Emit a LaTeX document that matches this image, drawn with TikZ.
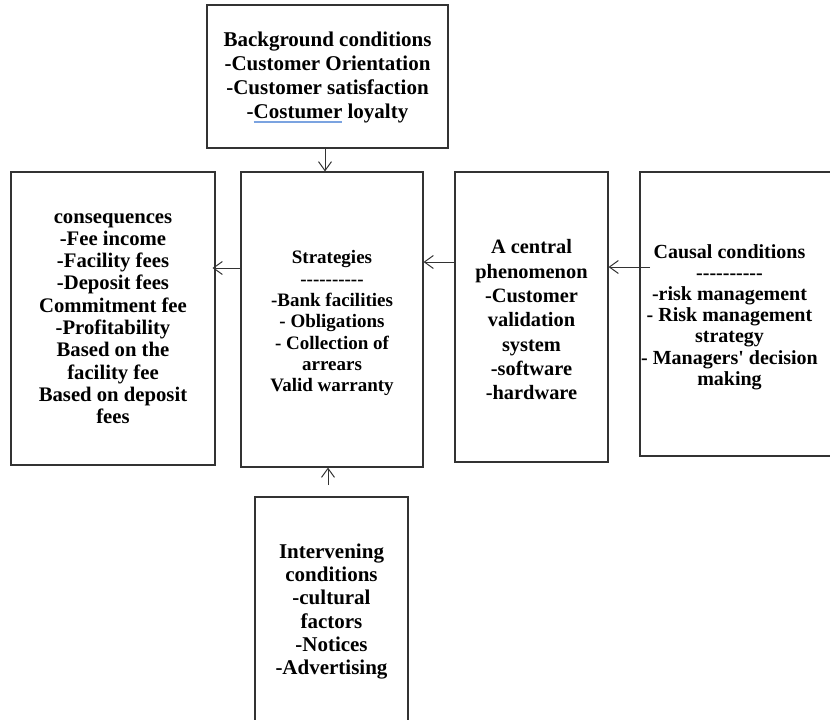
\documentclass[tikz,border=0pt]{standalone}
\usepackage{fontspec}
\newfontfamily\tf{Liberation Serif}
\usetikzlibrary{arrows.meta}
\definecolor{boxline}{HTML}{333333}
\definecolor{spell}{HTML}{7BA3E0}
\newcommand\spellul[1]{\setbox0\hbox{#1}\rlap{\color{spell}\rule[-4pt]{\wd0}{1.8pt}}\box0\relax}
\newcommand\hy{\mbox{-}}
\newcommand\hyrow{\hy\hy\hy\hy\hy\hy\hy\hy\hy\hy}
\newcommand\dn[2]{\raisebox{-#1}[\height][\depth]{\begin{tabular}{@{}c@{}}#2\end{tabular}}}
\begin{document}
\begin{tikzpicture}[x=1pt,y=-1pt,
  box/.style={draw=boxline, line width=1.1pt, inner sep=0pt, align=center, fill=white},
  frame/.style={draw=boxline, line width=1.1pt},
  arr/.style={draw=boxline, line width=1pt, -{Straight Barb[length=9pt,width=13pt]}}]
\useasboundingbox (0,0) rectangle (830,720);

\node[box, minimum width=241pt, minimum height=143pt,
  font={\tf\bfseries\fontsize{21}{24}\selectfont}] (bg) at (327.5,76.5)
  {\dn{1.5pt}{Background conditions\\-Customer Orientation\\-Customer satisfaction\\-\spellul{Costumer} loyalty}};

\node[box, minimum width=204pt, minimum height=293pt,
  font={\tf\bfseries\fontsize{20.7}{22.3}\selectfont}] (cons) at (113,318.5)
  {consequences\\-Fee income\\-Facility fees\\-Deposit fees\\Commitment fee\\-Profitability\\Based on the\\facility fee\\Based on deposit\\fees};

\node[box, minimum width=182pt, minimum height=295pt,
  font={\tf\bfseries\fontsize{19}{21.3}\selectfont}] (strat) at (332,319.5)
  {\dn{4pt}{Strategies\\\hyrow\\-Bank facilities\\- Obligations\\- Collection of\\arrears\\Valid warranty}};

\node[box, minimum width=153pt, minimum height=290pt,
  font={\tf\bfseries\fontsize{20.4}{24.3}\selectfont}] (central) at (531.5,317)
  {\dn{5pt}{A central\\phenomenon\\-Customer\\validation\\system\\-software\\-hardware}};

% causal conditions box runs off the right edge of the picture
\coordinate (cNW) at (640,172);
\coordinate (cSE) at (830,456);
\draw[frame] (cSE |- cNW) -- (cNW) -- (cNW |- cSE) -- (cSE);
\node[inner sep=0pt, align=center,
  font={\tf\bfseries\fontsize{20}{21.2}\selectfont}] (causal) at (729.5,317)
  {Causal conditions\\\hyrow\\-risk management\\- Risk management\\strategy\\- Managers' decision\\making};

\node[box, minimum width=153pt, minimum height=229pt,
  font={\tf\bfseries\fontsize{21}{23.2}\selectfont}] (interv) at (331.5,611.5)
  {Intervening\\conditions\\-cultural\\factors\\-Notices\\-Advertising};

\coordinate (ivtail) at (328,485);

\draw[arr] ([xshift=-2.5pt]bg.south) -- ([xshift=-2.5pt]bg.south |- strat.north);
\draw[arr] (strat.west |- 0,268) -- ([xshift=-3pt]cons.east |- 0,268);
\draw[arr] (central.west |- 0,262) -- (strat.east |- 0,262);
\draw[arr] ([xshift=10pt]cNW |- 0,267) -- (central.east |- 0,267);
\draw[arr] (ivtail) -- (strat.south -| ivtail);
\end{tikzpicture}
\end{document}
